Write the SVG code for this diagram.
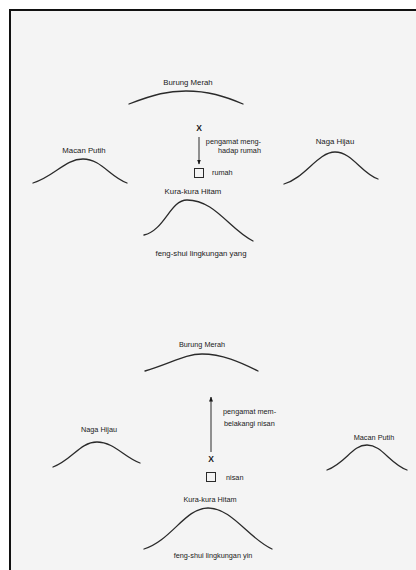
<svg xmlns="http://www.w3.org/2000/svg" width="416" height="570" viewBox="0 0 416 570">
<defs>
<style>
.t{font-family:"Liberation Sans",Arial,sans-serif;font-size:7.8px;fill:#1a1a1a}
.s{font-size:7.3px}
.x{font-family:"Liberation Sans",Arial,sans-serif;font-size:8.5px;font-weight:bold;fill:#1a1a1a}
.h{fill:none;stroke:#2a2a2a;stroke-width:1.3;stroke-linecap:round}
.b{fill:none;stroke:#2a2a2a;stroke-width:1}
</style>
<marker id="ah" viewBox="0 0 10 10" refX="9" refY="5" markerWidth="5" markerHeight="5" orient="auto-start-reverse">
<path d="M0,1 L10,5 L0,9 z" fill="#1a1a1a"/>
</marker>
</defs>
<rect width="416" height="570" fill="#fff"/>
<rect x="10" y="10" width="410" height="565" fill="#f4f4f4" stroke="#111" stroke-width="2"/>

<g id="top-burung">
<path class="h" d="M129,104 C155,94 168,91 186,91 C208,91 224,96 243,104"/>
<text class="t" x="188" y="85" text-anchor="middle">Burung Merah</text>
</g>
<g id="top-macan">
<path class="h" d="M33,183 C55,176 65,159 83,159 C101,159 110,177 127,183"/>
<text class="t" x="84" y="153" text-anchor="middle">Macan Putih</text>
</g>
<g id="top-naga">
<path class="h" d="M284,184 C305,178 318,152 335,152 C352,152 362,174 378,179"/>
<text class="t" x="335" y="144" text-anchor="middle">Naga Hijau</text>
</g>
<g id="top-kura">
<path class="h" d="M144,235 C165,230 170,200 187,200 C215,200 230,230 253,241"/>
<text class="t" x="193" y="194" text-anchor="middle">Kura-kura Hitam</text>
<text class="t" x="201" y="256" text-anchor="middle">feng-shui lingkungan yang</text>
</g>
<g id="top-observer">
<text class="x" x="199" y="131" text-anchor="middle">X</text>
<text class="t s" x="261" y="144" text-anchor="end">pengamat meng-</text>
<text class="t s" x="261" y="153" text-anchor="end">hadap rumah</text>
</g>
<g id="top-house">
<rect class="b" x="194.5" y="168.5" width="9" height="9"/>
<text class="t s" x="212" y="175">rumah</text>
</g>

<g id="bot-burung">
<path class="h" d="M145,371 C170,364 185,354 202,354 C222,354 240,362 258,371"/>
<text class="t s" x="202" y="347" text-anchor="middle">Burung Merah</text>
</g>
<g id="bot-naga">
<path class="h" d="M53,467 C72,460 80,442 97,442 C114,442 125,458 140,463"/>
<text class="t s" x="99" y="432" text-anchor="middle">Naga Hijau</text>
</g>
<g id="bot-macan">
<path class="h" d="M327,470 C346,463 352,445 367,445 C382,445 390,464 407,470"/>
<text class="t s" x="374" y="440" text-anchor="middle">Macan Putih</text>
</g>
<g id="bot-kura">
<path class="h" d="M144,549 C172,540 185,508 208,508 C232,508 248,538 272,549"/>
<text class="t s" x="210" y="502" text-anchor="middle">Kura-kura Hitam</text>
<text class="t s" x="213" y="558" text-anchor="middle">feng-shui lingkungan yin</text>
</g>
<g id="bot-observer">
<text class="x" x="211" y="462" text-anchor="middle">X</text>
<text class="t s" x="223" y="414">pengamat mem-</text>
<text class="t s" x="224" y="426">belakangi nisan</text>
</g>
<g id="bot-grave">
<rect class="b" x="206.5" y="472.5" width="9" height="9"/>
<text class="t s" x="226" y="480">nisan</text>
</g>

<g id="connectors">
<line class="b" x1="199" y1="137" x2="199" y2="164" marker-end="url(#ah)"/>
<line class="b" x1="211" y1="452" x2="211" y2="397" marker-end="url(#ah)"/>
</g>
</svg>
